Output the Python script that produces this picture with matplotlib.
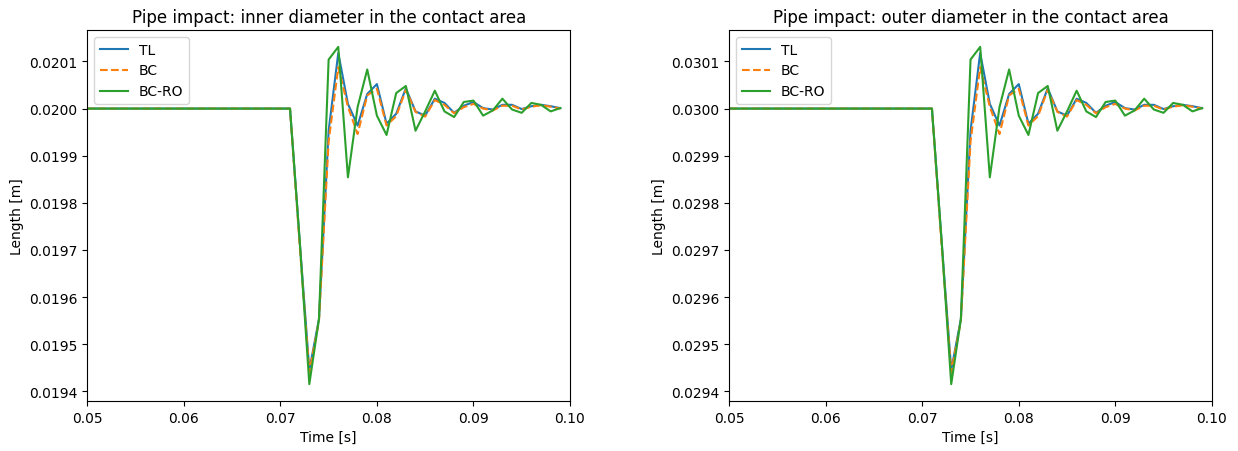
import numpy as np
import matplotlib
matplotlib.use('agg')
import matplotlib.pyplot as plt

# time steps shown in the window (s)
time = np.round(np.arange(0.050, 0.0995, 0.001), 3)

n_flat = 22  # steady value up to t = 0.071

# inner diameter [m]
inner_TL = [0.0200] * n_flat + [
    0.01972, 0.019445, 0.019553, 0.019953, 0.020118, 0.020010, 0.019964,
    0.020031, 0.020052, 0.019968, 0.019989, 0.020043, 0.019994, 0.019985,
    0.020021, 0.020012, 0.019991, 0.020006, 0.020014, 0.020001, 0.019998,
    0.020008, 0.020008, 0.019999, 0.020005, 0.020008, 0.020005, 0.020001]
inner_BC = [0.0200] * n_flat + [
    0.01971, 0.019440, 0.019550, 0.019930, 0.020088, 0.020004, 0.019946,
    0.020028, 0.020042, 0.019964, 0.019984, 0.020040, 0.019993, 0.019983,
    0.020018, 0.020008, 0.019990, 0.020003, 0.020010, 0.020000, 0.019996,
    0.020006, 0.020006, 0.019998, 0.020004, 0.020007, 0.020004, 0.020000]
inner_BCRO = [0.0200] * n_flat + [
    0.01972, 0.019415, 0.019553, 0.020104, 0.020131, 0.019854, 0.020003,
    0.020083, 0.019985, 0.019944, 0.020033, 0.020048, 0.019953, 0.019994,
    0.020038, 0.019994, 0.019982, 0.020014, 0.020017, 0.019985, 0.019996,
    0.020021, 0.019998, 0.019991, 0.020012, 0.020008, 0.019994, 0.020001]

# outer diameter [m]
outer_TL = [0.0300] * n_flat + [
    0.02972, 0.029445, 0.029553, 0.029953, 0.030118, 0.030010, 0.029964,
    0.030031, 0.030052, 0.029968, 0.029989, 0.030043, 0.029994, 0.029985,
    0.030021, 0.030012, 0.029991, 0.030006, 0.030014, 0.030001, 0.029998,
    0.030008, 0.030008, 0.029999, 0.030005, 0.030008, 0.030005, 0.030001]
outer_BC = [0.0300] * n_flat + [
    0.02971, 0.029440, 0.029550, 0.029930, 0.030088, 0.030004, 0.029946,
    0.030028, 0.030042, 0.029964, 0.029984, 0.030040, 0.029993, 0.029983,
    0.030018, 0.030008, 0.029990, 0.030003, 0.030010, 0.030000, 0.029996,
    0.030006, 0.030006, 0.029998, 0.030004, 0.030007, 0.030004, 0.030000]
outer_BCRO = [0.0300] * n_flat + [
    0.02972, 0.029415, 0.029553, 0.030104, 0.030131, 0.029854, 0.030003,
    0.030083, 0.029985, 0.029944, 0.030033, 0.030048, 0.029953, 0.029994,
    0.030038, 0.029994, 0.029982, 0.030014, 0.030017, 0.029985, 0.029996,
    0.030021, 0.029998, 0.029991, 0.030012, 0.030008, 0.029994, 0.030001]

fig = plt.figure(figsize=(12.38, 4.52), dpi=100)
ax1 = fig.add_axes([0.0705, 0.1106, 0.3899, 0.8208])
ax2 = fig.add_axes([0.5891, 0.1106, 0.3897, 0.8208])

panels = [
    (ax1, inner_TL, inner_BC, inner_BCRO, 'Pipe impact: inner diameter in the contact area'),
    (ax2, outer_TL, outer_BC, outer_BCRO, 'Pipe impact: outer diameter in the contact area'),
]

for ax, tl, bc, bcro, title in panels:
    ax.plot(time, tl, label='TL')
    ax.plot(time, bc, '--', label='BC')
    ax.plot(time, bcro, label='BC-RO')
    ax.set_xlim(0.05, 0.10)
    ax.set_xlabel('Time [s]')
    ax.set_ylabel('Length [m]')
    ax.set_title(title)
    ax.ticklabel_format(axis='y', useOffset=False)
    ax.legend(loc='upper left')

fig.savefig('out.png', dpi=100)
